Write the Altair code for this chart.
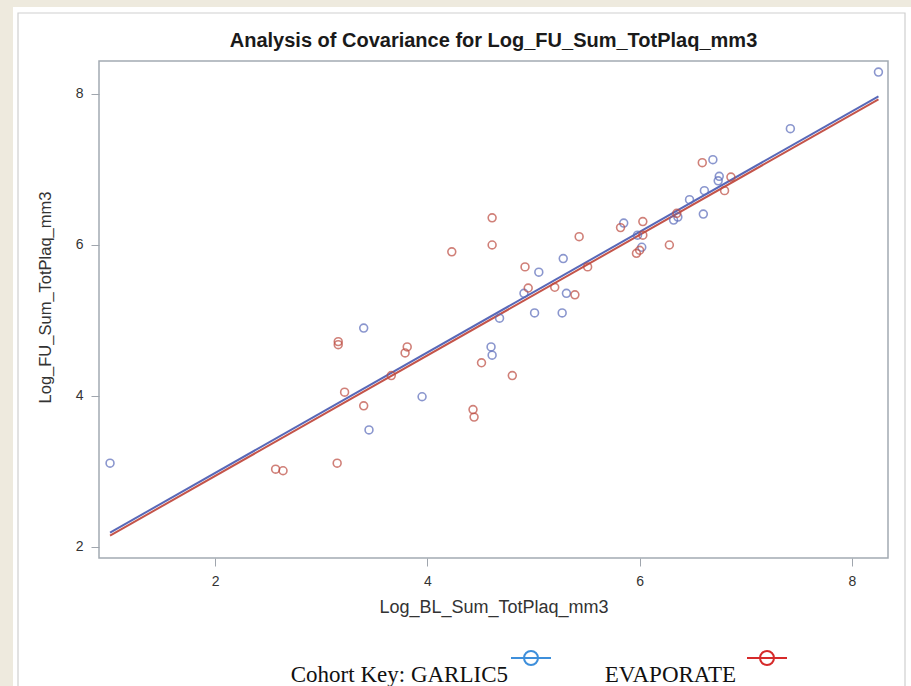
import altair as alt
import pandas as pd

cohorts = ["GARLIC5", "EVAPORATE"]

garlic_x = [1.01, 3.40, 3.45, 3.95, 4.60, 4.61, 4.68, 5.01, 5.27, 4.91, 5.31, 5.05, 5.28,
            5.85, 5.98, 6.02, 6.32, 6.36, 6.60, 6.47, 6.61, 6.74, 6.75, 6.69, 7.42, 8.25]
garlic_y = [3.11, 4.90, 3.55, 3.99, 4.65, 4.54, 5.03, 5.10, 5.10, 5.36, 5.36, 5.64, 5.82,
            6.29, 6.13, 5.97, 6.33, 6.37, 6.41, 6.60, 6.72, 6.85, 6.91, 7.13, 7.54, 8.29]

evap_x = [2.57, 2.64, 3.15, 3.16, 3.16, 3.22, 3.40, 3.81, 3.79, 3.66, 4.23, 4.43, 4.44,
          4.51, 4.61, 4.61, 4.80, 4.92, 4.95, 5.20, 5.39, 5.51, 5.43, 5.82, 6.03, 6.03,
          6.00, 5.97, 6.28, 6.35, 6.59, 6.86, 6.80]
evap_y = [3.03, 3.01, 3.11, 4.72, 4.68, 4.05, 3.87, 4.65, 4.57, 4.27, 5.91, 3.82, 3.72,
          4.44, 6.36, 6.00, 4.27, 5.71, 5.43, 5.44, 5.34, 5.71, 6.11, 6.23, 6.31, 6.13,
          5.93, 5.89, 6.00, 6.42, 7.09, 6.90, 6.72]

fit_x = [1.01, 8.25]
garlic_fit_y = [2.19, 7.97]
evap_fit_y = [2.15, 7.93]

x_ticks = [2, 4, 6, 8]
y_ticks = [2, 4, 6, 8]

plot_colors = ["#5A6BBA", "#BD4B40"]
line_colors = ["#5868B8", "#C4544A"]
legend_colors = ["#3E8FDB", "#D62A2A"]

pts = pd.DataFrame({
    "x": garlic_x + evap_x,
    "y": garlic_y + evap_y,
    "cohort": [cohorts[0]] * len(garlic_x) + [cohorts[1]] * len(evap_x),
})
fits = pd.DataFrame({
    "x": fit_x + fit_x,
    "y": evap_fit_y + garlic_fit_y,
    "cohort": [cohorts[1]] * 2 + [cohorts[0]] * 2,
})

W, H = 789, 497
PL, PT = 99, 61

xs = alt.Scale(domain=[0.906, 8.34], nice=False, zero=False)
ys = alt.Scale(domain=[1.854, 8.437], nice=False, zero=False)

xaxis = alt.Axis(values=x_ticks, format="d", title="Log_BL_Sum_TotPlaq_mm3", grid=False,
                 domain=False, tickColor="#A0A6AE", tickSize=8, labelFontSize=14,
                 labelColor="#333333", labelFont="Liberation Sans", titleFont="Liberation Sans",
                 titleFontSize=18, titleFontWeight="normal", titleColor="#333333",
                 labelPadding=8, titlePadding=10)
yaxis = alt.Axis(values=y_ticks, format="d", title="Log_FU_Sum_TotPlaq_mm3", grid=False,
                 domain=False, tickColor="#A0A6AE", tickSize=8, labelFontSize=14,
                 labelColor="#333333", labelFont="Liberation Sans", titleFont="Liberation Sans",
                 titleFontSize=16.5, titleFontWeight="normal", titleColor="#333333",
                 labelPadding=8, titlePadding=22, titleY=236)

one = pd.DataFrame({"k": [0]})
beige_left = alt.Chart(one).mark_rect(fill="#EEEADE").encode(
    x=alt.value(0 - PL), x2=alt.value(13 - PL), y=alt.value(0 - PT), y2=alt.value(700 - PT))
beige_top = alt.Chart(one).mark_rect(fill="#EEEADE").encode(
    x=alt.value(0 - PL), x2=alt.value(920 - PL), y=alt.value(0 - PT), y2=alt.value(7 - PT))
frame = alt.Chart(one).mark_rect(fillOpacity=0, stroke="#CFCFCF", strokeWidth=1.2).encode(
    x=alt.value(18 - PL), x2=alt.value(905 - PL), y=alt.value(13 - PT), y2=alt.value(700 - PT))

lines = alt.Chart(fits).mark_line(strokeWidth=2).encode(
    x=alt.X("x:Q", scale=xs, axis=xaxis),
    y=alt.Y("y:Q", scale=ys, axis=yaxis),
    color=alt.Color("cohort:N", scale=alt.Scale(domain=cohorts, range=line_colors), legend=None),
)

points = alt.Chart(pts).mark_point(shape="circle", filled=False, size=62, strokeWidth=1.6).encode(
    x=alt.X("x:Q", scale=xs),
    y=alt.Y("y:Q", scale=ys),
    color=alt.Color("cohort:N", scale=alt.Scale(domain=cohorts, range=plot_colors), legend=None),
)

sym = ("M-1,-0.3L1,-0.3M-0.35,-0.3A0.35,0.35 0 1,0 0.35,-0.3"
       "A0.35,0.35 0 1,0 -0.35,-0.3")


def key(entry, lx, ly, label, off):
    return alt.Chart(pts).mark_point(filled=False, opacity=0).encode(
        x=alt.X("x:Q", scale=xs),
        y=alt.Y("y:Q", scale=ys),
        color=alt.Color(
            "cohort:N",
            scale=alt.Scale(domain=cohorts, range=legend_colors),
            legend=alt.Legend(
                values=[entry], title=None, orient="none", legendX=lx, legendY=ly,
                symbolType=sym, symbolSize=1600, symbolStrokeWidth=2, symbolOpacity=1,
                labelFont="Liberation Serif", labelFontSize=23, labelColor="#111111",
                labelAlign="right", labelOffset={"expr": str(off)}, symbolOffset=0,
                labelBaseline="top", labelLimit=400, labelExpr=label,
            ),
        ),
    )


key_g = key("GARLIC5", 411, 582, "'Cohort Key: ' + datum.label", -44)
key_e = key("EVAPORATE", 647, 582, "datum.label", -52)

chart = alt.layer(beige_left, beige_top, frame, lines, points, key_g, key_e).resolve_scale(
    color="independent"
).properties(
    width=W, height=H,
    title=alt.TitleParams(
        "Analysis of Covariance for Log_FU_Sum_TotPlaq_mm3",
        font="Liberation Sans", fontSize=20, fontWeight="bold", color="#1A1A1A",
        anchor="middle", frame="group", offset=14, dy=81, baseline="alphabetic",
    ),
    autosize=alt.AutoSizeParams(type="none"),
    padding={"left": PL, "top": PT, "right": 911 - PL - W, "bottom": 686 - PT - H},
    background="white",
).configure_view(stroke="#A3AAB2", strokeWidth=1.5)

chart.save("out.html", embed_options={"renderer": "svg", "actions": False})
